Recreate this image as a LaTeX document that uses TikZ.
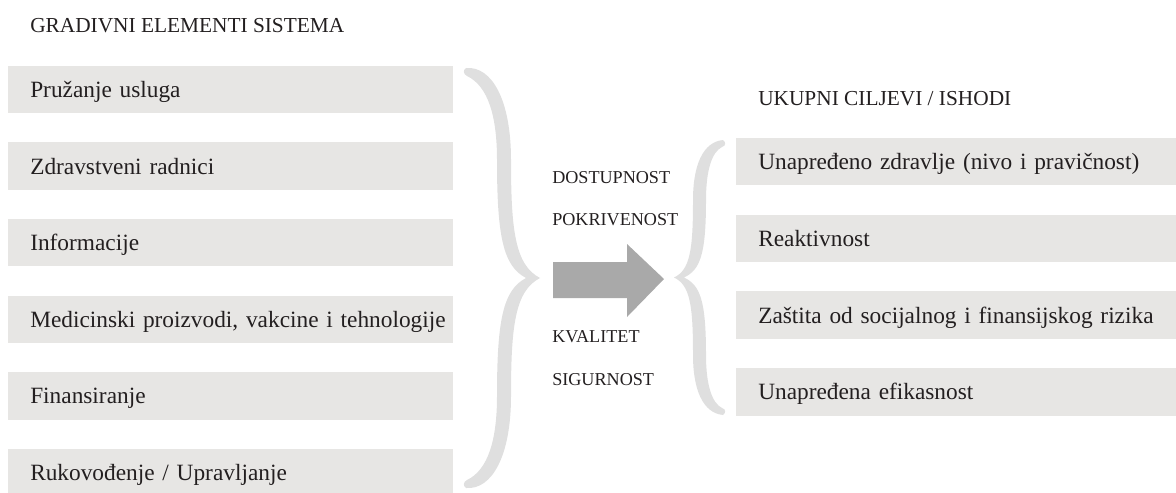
\documentclass[tikz,border=0pt]{standalone}
\usepackage{fontspec}
\setmainfont{Liberation Serif}
\definecolor{boxgray}{HTML}{E7E6E4}
\definecolor{bracegray}{HTML}{DFDFDF}
\definecolor{arrowgray}{HTML}{A9A9A9}
\definecolor{ink}{HTML}{231F20}
\tikzset{
  elem/.style={rectangle,fill=boxgray,anchor=west,inner xsep=16.5pt,inner ysep=0pt,
    minimum height=35.5pt,text width=300.75pt,align=left,text=ink,
    text height=13pt,text depth=1pt,font=\fontsize{17.5}{20}\selectfont},
  goal/.style={elem,text width=297pt},
  head/.style={anchor=base west,inner sep=0pt,text=ink,font=\fontsize{16}{19}\selectfont},
  dim/.style={anchor=base west,inner sep=0pt,text=ink,font=\fontsize{13.6}{16}\selectfont},
}

\begin{document}
\begin{tikzpicture}[x=0.75pt,y=-0.75pt]
      \useasboundingbox (0,0) rectangle (1176,492);
      \node [head] at (30,33) (lefthead) {GRADIVNI ELEMENTI SISTEMA};
      \node [head] at (758,105) (righthead) {UKUPNI CILJEVI / ISHODI};
      \foreach \t [count=\i from 0] in {Pružanje usluga, Zdravstveni radnici, Informacije,
        {Medicinski proizvodi, vakcine i tehnologije}, Finansiranje, Rukovođenje / Upravljanje}
      {
        \node [elem] at (8, 89.5+76.6*\i) (e\i) {\mbox{\t}};
      }
      \foreach \t [count=\i from 0] in {Unapređeno zdravlje (nivo i pravičnost), Reaktivnost,
        Zaštita od socijalnog i finansijskog rizika, Unapređena efikasnost}
      {
        \node [goal] at (736, 161.5+76.8*\i) (g\i) {\mbox{\t}};
      }
      \foreach \y/\t in {183/DOSTUPNOST, 225/POKRIVENOST, 342/KVALITET, 385/SIGURNOST}
      {
        \node [dim] at (552,\y) (d\y) {\t};
      }
      % left brace
      \fill [bracegray] (466,68)
        .. controls (492,66) and (511,100) .. (511,160)
        .. controls (511,230) and (515,265) .. (540,278)
        .. controls (515,291) and (511,326) .. (511,396)
        .. controls (511,456) and (492,490) .. (466,488)
        .. controls (463,486) and (463,482) .. (467,480)
        .. controls (488,470) and (497,440) .. (497,396)
        .. controls (497,320) and (503,290) .. (526,278)
        .. controls (503,266) and (497,236) .. (497,160)
        .. controls (497,116) and (488,86) .. (467,76)
        .. controls (463,74) and (463,70) .. (466,68) -- cycle;
      % right brace
      \fill [bracegray] (723,140)
        .. controls (703,142) and (693,165) .. (693,200)
        .. controls (693,250) and (690,270) .. (674,277.5)
        .. controls (690,285) and (693,305) .. (693,355)
        .. controls (693,390) and (703,413) .. (723,415)
        .. controls (726,413) and (726,409) .. (722,408)
        .. controls (712,403) and (706,385) .. (706,355)
        .. controls (706,300) and (700,285) .. (684,277.5)
        .. controls (700,270) and (706,255) .. (706,200)
        .. controls (706,170) and (712,152) .. (722,147)
        .. controls (726,146) and (726,142) .. (723,140) -- cycle;
      % arrow
      \fill [arrowgray] (553,262) -- (627,262) -- (627,244) -- (664,279)
        -- (627,317) -- (627,298) -- (553,298) -- cycle;
    \end{tikzpicture}
\end{document}
